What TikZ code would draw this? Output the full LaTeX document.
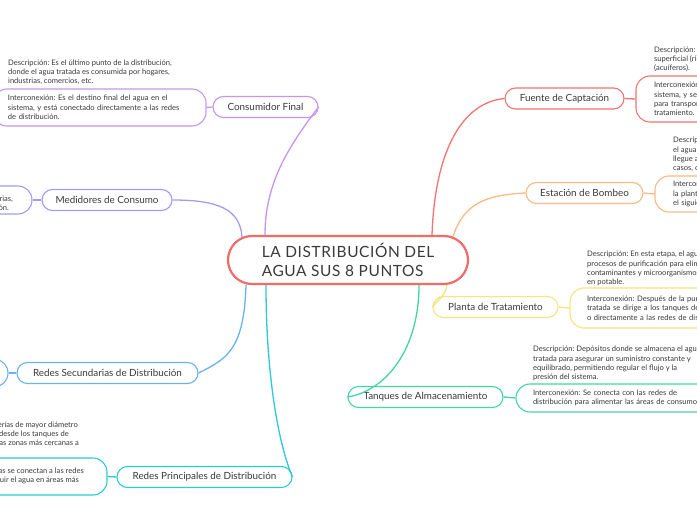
\documentclass[tikz,border=0pt]{standalone}
\usepackage{fontspec}
\setmainfont{Lato}
\usepackage{xcolor}
\usetikzlibrary{calc}
\frenchspacing

\definecolor{cRoot}{HTML}{F26B6B}
\definecolor{cFue}{HTML}{F57373}
\definecolor{cEst}{HTML}{FDB985}
\definecolor{cPla}{HTML}{F6E382}
\definecolor{cTan}{HTML}{43D6A4}
\definecolor{cPrin}{HTML}{2BCAD8}
\definecolor{cSec}{HTML}{6BB2F2}
\definecolor{cMed}{HTML}{A39BF7}
\definecolor{cCons}{HTML}{C894EE}
\definecolor{txt}{HTML}{3A3A3A}

\begin{document}
\begin{tikzpicture}[x=1bp, y=-1bp,
    every node/.style={text=txt},
    root/.style={draw=cRoot, line width=2.2bp, rounded corners=24bp, fill=white,
        minimum width=240bp, minimum height=48bp, align=left,
        font=\fontsize{15.5}{19.5}\selectfont\addfontfeatures{LetterSpace=4}},
    branch/.style={draw, line width=1.1bp, rounded corners=10.5bp, fill=white,
        minimum height=21bp, inner sep=0pt, font=\fontsize{9.9}{11}\selectfont},
    leaf/.style={draw, line width=1.1bp, rounded corners=14bp, fill=white,
        align=left, inner ysep=0pt, font=\fontsize{7.6}{9.3}\selectfont},
    note/.style={align=left, inner sep=0pt, anchor=west, font=\fontsize{7.6}{9.3}\selectfont},
    cut/.style={inner sep=0pt, anchor=base east, font=\fontsize{7.6}{9.3}\selectfont},
    link/.style={line width=1.3bp}]
\fill[white] (0,0) rectangle (697,520);
\useasboundingbox (0,0) rectangle (697,520);
\clip (0,0) rectangle (697,520);

% centro
\node[root] (main) at (348,260) {LA DISTRIBUCIÓN DEL\\AGUA SUS 8 PUNTOS};

% ramas
\node[branch, draw=cCons, minimum width=105bp] (cons) at (265.5,107) {Consumidor Final};
\node[branch, draw=cFue, minimum width=119bp] (fue) at (564.5,98.5) {Fuente de Captación};
\node[branch, draw=cEst, minimum width=117bp] (est) at (584.5,193) {Estación de Bombeo};
\node[branch, draw=cPla, minimum width=125bp] (pla) at (495.5,307) {Planta de Tratamiento};
\node[branch, draw=cTan, minimum width=155bp] (tan) at (425.5,397) {Tanques de Almacenamiento};
\node[branch, draw=cPrin, minimum width=175bp] (prin) at (204.5,477) {Redes Principales de Distribución};
\node[branch, draw=cSec, minimum width=181bp] (sec) at (107.5,373) {Redes Secundarias de Distribución};
\node[branch, draw=cMed, minimum width=130bp] (med) at (107,200) {Medidores de Consumo};

% consumidor final
\node[note] (consDesc) at (8,72) {Descripción: Es el último punto de la distribución,\\donde el agua tratada es consumida por hogares,\\industrias, comercios, etc.};
\node[leaf, draw=cCons, minimum width=213bp, minimum height=37bp, inner xsep=15bp, text width=183bp] (consInt) at (99.5,107.5)
    {Interconexión: Es el destino final del agua en el\\sistema, y está conectado directamente a las redes\\de distribución.};

% fuente de captacion
\node[note] (fueDesc) at (654,59.5) {Descripción: Es el origen del agua, que puede ser\\superficial (ríos, lagos, embalses) o subterránea\\(acuíferos).};
\node[leaf, draw=cFue, minimum width=260bp, minimum height=46bp, inner xsep=18bp, text width=224bp] (fueInt) at (766,99)
    {Interconexión: Es el punto de inicio del\\sistema, y se conecta a tuberías o canales\\para transportar el agua hacia la planta de\\tratamiento.};

% estacion de bombeo
\node[note] (estDesc) at (673,154.5) {Descripción: Se utiliza para bombear\\el agua desde la fuente y asegurar que\\llegue a la planta de tratamiento o, en algunos\\casos, directamente a los tanques.};
\node[leaf, draw=cEst, minimum width=260bp, minimum height=36bp, inner xsep=18bp, text width=224bp] (estInt) at (785,194)
    {Interconexión: Recibe el agua de la fuente o de\\la planta de tratamiento y la impulsa hacia\\el siguiente punto del sistema.};

% planta de tratamiento
\node[note] (plaDesc) at (587,268.5) {Descripción: En esta etapa, el agua pasa por\\procesos de purificación para eliminar\\contaminantes y microorganismos, convirtiéndola\\en potable.};
\node[leaf, draw=cPla, minimum width=260bp, minimum height=40bp, inner xsep=17bp, text width=226bp] (plaInt) at (700,308)
    {Interconexión: Después de la purificación, el agua\\tratada se dirige a los tanques de almacenamiento\\o directamente a las redes de distribución.};

% tanques
\node[note] (tanDesc) at (533,363.5) {Descripción: Depósitos donde se almacena el agua\\tratada para asegurar un suministro constante y\\equilibrado, permitiendo regular el flujo y la\\presión del sistema.};
\node[leaf, draw=cTan, minimum width=260bp, minimum height=28bp, inner xsep=17bp, text width=226bp] (tanInt) at (646,398)
    {Interconexión: Se conecta con las redes de\\distribución para alimentar las áreas de consumo.};

% redes principales
\foreach \t/\ex/\by [count=\i] in {
    {Descripción: Son tuberías de mayor diámetro}/78/427.5,
    {que transportan el agua desde los tanques de}/69/436.5,
    {almacenamiento hacia las zonas más cercanas a}/79/445.5}
    \node[cut] (prinDesc\i) at (\ex,\by) {\t};
\node[leaf, draw=cPrin, minimum width=200bp, minimum height=37bp] (prinInt) at (7,476.5) {};
\foreach \t/\ex/\by [count=\i] in {
    {Interconexión: Estas tuberías se conectan a las redes}/84/473.5,
    {secundarias para distribuir el agua en áreas más}/79/482.5}
    \node[cut] (prinLine\i) at (\ex,\by) {\t};

% redes secundarias
\node[leaf, draw=cSec, minimum width=200bp, minimum height=28bp] (secInt) at (-92,373) {};

% medidores
\node[leaf, draw=cMed, minimum width=200bp, minimum height=28bp] (medInt) at (-68,200) {};
\foreach \t/\ex/\by [count=\i] in {
    {Interconexión: Se conectan a las tuberías secundarias,}/13/201.5,
    {y registran el consumo de cada vivienda o institución.}/9/210.5}
    \node[cut] (medLine\i) at (\ex,\by) {\t};

% conexiones al centro
\draw[link, cCons] ([xshift=-83bp]main.north) .. controls +(0,-50) and +(-32,42) .. (cons.east);
\draw[link, cMed] (med.east) .. controls +(45,0) and +(-2,-28) .. ([xshift=-106bp,yshift=-2bp]main.north);
\draw[link, cSec] ([xshift=-102bp]main.south) .. controls +(-2,65) and +(28,-14) .. (sec.east);
\draw[link, cPrin] ([xshift=-82bp]main.south) .. controls +(0,90) and +(-14,-32) .. (prin.east);
\draw[link, cFue] ([xshift=84bp]main.north) .. controls +(3,-85) and +(-42,4) .. (fue.west);
\draw[link, cEst] ([xshift=105bp,yshift=-2bp]main.north) .. controls +(10,-32) and +(-42,2) .. (est.west);
\draw[link, cPla] ([xshift=99bp]main.south) .. controls +(-2,12) and +(6,-8) .. (pla.west);
\draw[link, cTan] ([xshift=71bp]main.south) .. controls +(0,65) and +(38,-6) .. (tan.west);

% conexiones a las hojas
\draw[link, cCons] (cons.west) -- (consInt.east);
\draw[link, cFue] (fue.east) -- (fueInt.west);
\draw[link, cEst] (est.east) -- (estInt.west);
\draw[link, cPla] (pla.east) -- (plaInt.west);
\draw[link, cTan] (tan.east) -- (tanInt.west);
\draw[link, cPrin] (prin.west) -- (prinInt.east);
\draw[link, cSec] (sec.west) -- (secInt.east);
\draw[link, cMed] (med.west) -- (medInt.east);
\end{tikzpicture}
\end{document}
